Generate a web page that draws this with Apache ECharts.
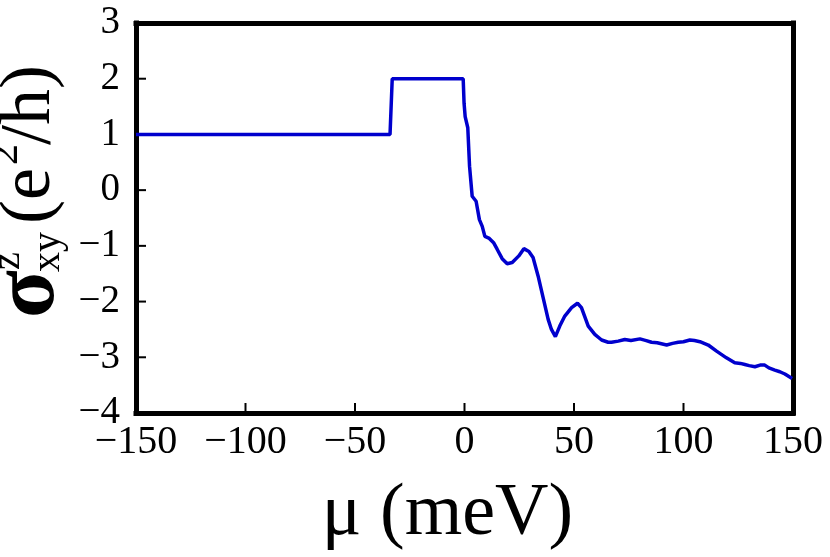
<!DOCTYPE html>
<html>
<head>
<meta charset="utf-8">
<script src="https://cdn.jsdelivr.net/npm/echarts@6/dist/echarts.min.js"></script>
<style>
  html, body { margin: 0; padding: 0; background: #fff; }
  #main { width: 830px; height: 557px; }
</style>
</head>
<body>
<div id="main"></div>
<script>
// chemical potential (meV) and sigma_xy^z (e^2/h)
const muVals = [-150, -34, -33, -0.6, -0.2, 0.3, 1.5, 2.3, 3.5, 5.3, 6.8, 8.1, 9.3, 11.1, 13.4, 14.9,
  17.2, 19.5, 21.8, 24.8, 27.1, 29.4, 31.3, 33.6, 35.9, 38.2, 39.7, 41.5, 43.5, 45.8, 48.9, 51.6,
  53.4, 56.5, 59.5, 62.6, 65.6, 67.1, 70.2, 73.2, 76, 80.1, 83, 85.4, 88, 92.3, 95, 97.6, 100,
  102.9, 105, 107.5, 111.3, 115.1, 119.6, 123.4, 126, 128, 130, 132.6, 135, 137.1, 139, 141.7,
  144, 146.3, 149.6];
const sigmaVals = [1, 1, 2, 2, 1.56, 1.32, 1.12, 0.43, -0.11, -0.20, -0.53, -0.65, -0.83, -0.86, -0.95, -1.06,
  -1.23, -1.32, -1.30, -1.18, -1.05, -1.10, -1.21, -1.54, -1.93, -2.32, -2.50, -2.63, -2.44, -2.26, -2.11, -2.03,
  -2.11, -2.44, -2.59, -2.69, -2.73, -2.73, -2.71, -2.68, -2.70, -2.67, -2.70, -2.73, -2.74, -2.78, -2.75, -2.73, -2.72,
  -2.69, -2.70, -2.72, -2.78, -2.89, -3.01, -3.10, -3.11, -3.13, -3.15, -3.17, -3.14, -3.14, -3.19, -3.23,
  -3.26, -3.30, -3.38];

const xTicks = [-150, -100, -50, 0, 50, 100, 150];
const yTicks = [-4, -3, -2, -1, 0, 1, 2, 3];

const serif = "'Liberation Serif', 'DejaVu Serif', serif";
const minus = v => String(v).replace('-', '\u2212');

// baseline -> y for verticalAlign middle
const bl = (b, fs) => b - 0.34 * fs;

function txt(text, x, base, fs, weight) {
  return {
    type: 'text', x: x, y: bl(base, fs),
    style: { text: text, fontFamily: serif, fontSize: fs, fontWeight: weight || 'normal',
      fill: '#000', align: 'left', verticalAlign: 'middle' }
  };
}

const xRange = { type: 'value', min: xTicks[0], max: xTicks[xTicks.length - 1], interval: 50 };
const yRange = { type: 'value', min: yTicks[0], max: yTicks[yTicks.length - 1], interval: 1 };
const frame = { show: true, onZero: false, lineStyle: { color: '#000', width: 5, cap: 'square' } };
// top / right edges of the box
const edge = {
  axisLine: frame, axisTick: { show: false }, axisLabel: { show: false }, splitLine: { show: false }
};

const chart = echarts.init(document.getElementById('main'));
chart.setOption({
  animation: false,
  grid: { left: 136, right: 37, top: 23, bottom: 143 },
  xAxis: [Object.assign({}, xRange, {
    position: 'bottom',
    splitLine: { show: false },
    axisLine: frame,
    axisTick: { show: false },
    axisLabel: { margin: 9, color: '#000', fontFamily: serif, fontSize: 40, formatter: minus },
    name: '\u03bc (meV)',
    nameLocation: 'middle',
    nameGap: 65,
    nameTextStyle: { color: '#000', fontFamily: serif, fontSize: 74, padding: [0, 34, 0, 0] }
  }), Object.assign({}, xRange, edge, { position: 'top' })],
  yAxis: [Object.assign({}, yRange, {
    position: 'left',
    splitLine: { show: false },
    axisLine: frame,
    axisTick: { show: false },
    axisLabel: { margin: 16, color: '#000', fontFamily: serif, fontSize: 39, formatter: minus }
  }), Object.assign({}, yRange, edge, { position: 'right' })],
  series: [{
    type: 'line',
    xAxisIndex: 0, yAxisIndex: 0,
    showSymbol: false,
    data: muVals.map((m, i) => [m, sigmaVals[i]]),
    lineStyle: { color: '#0000cd', width: 3.5 },
    itemStyle: { color: '#0000cd' }
  }]
});

// inward ticks on the bottom and left edges, placed through the axes' own scales
const tickLen = 10;
const bottomY = chart.convertToPixel({ yAxisIndex: 0 }, yTicks[0]);
const leftX = chart.convertToPixel({ xAxisIndex: 0 }, xTicks[0]);
const tickStyle = { stroke: '#000', lineWidth: 2 };
const tickMarks = [];
xTicks.slice(1, -1).forEach(v => {
  const px = chart.convertToPixel({ xAxisIndex: 0 }, v);
  tickMarks.push({ type: 'line', shape: { x1: px, y1: bottomY, x2: px, y2: bottomY - tickLen }, style: tickStyle });
});
yTicks.slice(1, -1).forEach(v => {
  const py = chart.convertToPixel({ yAxisIndex: 0 }, v);
  tickMarks.push({ type: 'line', shape: { x1: leftX, y1: py, x2: leftX + tickLen, y2: py }, style: tickStyle });
});

chart.setOption({
  graphic: {
    elements: [{
      type: 'group', x: 0, y: 330, rotation: Math.PI / 2,
      children: [
        txt('\u03c3', 12, 60, 88, 'bold'),
        txt('xy', 58, 62, 40),
        txt('z', 60, 22, 40),
        txt('(e', 106, 55, 72),
        txt('2', 165, 20, 42),
        txt('/h)', 185, 55, 72)
      ]
    }].concat(tickMarks)
  }
});
</script>
</body>
</html>
